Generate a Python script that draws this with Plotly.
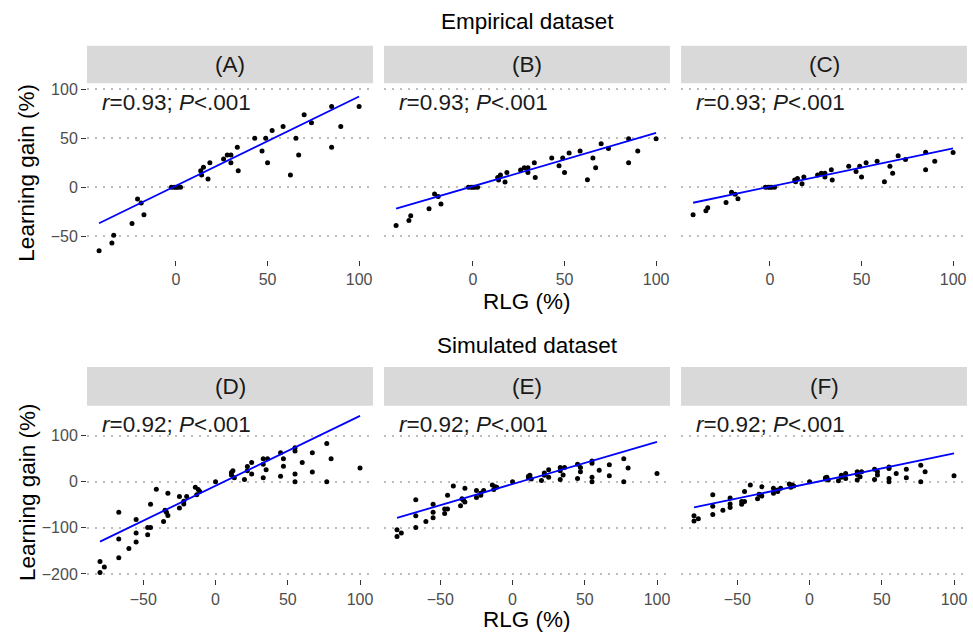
import numpy as np
import plotly.graph_objects as go

# ---------------- data ----------------
# Empirical dataset (panels A, B, C): RLG (%) and learning gain (%)
rlg_emp = [-42, -35, -34, -24, -21, -19, -17.5, -2.5, -1, 0, 1, 2.5,
           13.5, 14, 15, 17.5, 18.5, 26, 28, 30, 30, 33.5, 34, 43, 47, 49,
           50, 52.5, 58.5, 62.5, 65.5, 67, 70, 74, 85, 85, 90, 100]
lg_A = [-65, -57, -49, -37, -12, -16, -28, 0, 0, 0, 0, 0,
        17, 12.5, 20.5, 8.5, 25, 29, 33, 33, 25, 41, 17, 50, 37, 50,
        25, 58, 62, 12.5, 50, 33, 74, 66, 82.5, 41, 62, 82.5]
lg_B = [-39, -34, -29, -22, -7, -9.5, -17, 0, 0, 0, 0, 0,
        10, 7.5, 12.5, 5.4, 15, 17.6, 20, 20, 15, 25, 10, 30, 22, 30,
        15, 35, 37, 7.8, 30, 20, 44.6, 39.6, 49.7, 25, 37, 49.7]
lg_C = [-28, -24, -21, -15.6, -5.1, -7.1, -11.8, 0, 0, 0, 0, 0,
        7.3, 5.6, 9, 3.7, 10.5, 12.5, 14.2, 14.2, 10.5, 17.9, 7.4, 21.6, 16.2, 21.6,
        10.5, 25, 26.7, 5.7, 21.6, 14.2, 32.1, 28.4, 35.8, 17.9, 26.7, 35.5]

# Simulated dataset (panels D, E, F)
rlg_sim = [-80, -77, -80, -67, -67, -67, -60, -55, -55, -55,
           -47, -47, -45, -45, -41, -36, -35, -34, -33, -33,
           -25, -25, -22, -22, -20, -14, -13, -12, -11, 0,
           11, 11, 12, 13, 20, 22, 22, 25, 25, 33,
           33, 33, 36, 35, 45, 45, 47, 47, 55, 55,
           55, 55, 60, 67, 67, 77, 77, 80, 100]
lg_D = [-173, -185, -197, -66, -124, -165, -145, -82, -111, -131,
        -99, -115, -99, -49, -16, -86, -62, -66, -73, -25,
        -32, -57, -48, -42, -32, -12, -28, -17, -21, 0,
        20, 15, 24, 9, 5, 33, 24, 42, 17, 9,
        38, 50, 50, 26, 12, 63, 50, 34, 74, 67,
        17, 0, 42, 63, 21, 83, 0, 50, 30]
lg_E = [-104, -111, -119, -39, -74, -99, -86, -49, -66, -78,
        -59, -69, -59, -29, -9, -52, -37, -40, -44, -14,
        -19, -34, -29, -25, -19, -7, -17, -11, -12, 0,
        12, 9, 14, 6, 3, 19, 14, 26, 10, 5,
        24, 31, 31, 15, 7, 38, 31, 22, 45, 40,
        10, 0, 25, 37, 13, 50, 0, 30, 18]
lg_F = [-74, -80, -85, -28, -53, -71, -62, -35, -48, -56,
        -43, -49, -43, -21, -7, -37, -27, -28, -31, -11,
        -14, -25, -21, -18, -14, -5, -12, -7, -9, 0,
        9, 6, 10, 4, 2, 14, 10, 18, 7, 4,
        16, 22, 22, 11, 5, 27, 22, 15, 32, 29,
        7, 0, 18, 27, 9, 36, 0, 22, 13]

# Regression lines as drawn in the chart (slope, intercept per panel)
fit_slope = [0.912, 0.545, 0.391, 1.516, 0.918, 0.651]
fit_intercept = [1.5, 1.0, 0.6, -8.6, -4.9, -3.4]

panel_labels = ["(A)", "(B)", "(C)", "(D)", "(E)", "(F)"]
stat_labels = ["<i>r</i>=0.93; <i>P</i>&lt;.001"] * 3 + ["<i>r</i>=0.92; <i>P</i>&lt;.001"] * 3
row_titles = ["Empirical dataset", "Simulated dataset"]
x_title = "RLG (%)"
y_title = "Learning gain (%)"
x_ticks_top = [0, 50, 100]
x_ticks_bot = [-50, 0, 50, 100]
y_ticks_top = [-50, 0, 50, 100]
y_ticks_bot = [-200, -100, 0, 100]

panels = [(rlg_emp, lg_A), (rlg_emp, lg_B), (rlg_emp, lg_C),
          (rlg_sim, lg_D), (rlg_sim, lg_E), (rlg_sim, lg_F)]

# ---------------- layout geometry (pixels) ----------------
W, H = 973, 636
FONT = "Liberation Sans, Arial, sans-serif"
BIG = 22.5
col_px = [(87, 373), (384, 670), (681, 967)]
row_panel_px = [(82, 260), (407, 582)]
row_strip_px = [(44, 82), (368, 407)]
x_ranges = [[-48.6, 107.6], [-89, 109]]
y_ranges = [[-74.3, 106.2], [-212, 165]]


def fx(px):
    return px / W


def fy(py):
    return 1 - py / H


fig = go.Figure()
layout = dict(
    width=W, height=H,
    margin=dict(l=0, r=0, t=0, b=0),
    paper_bgcolor="white", plot_bgcolor="white",
    showlegend=False,
    font=dict(family=FONT, color="#1A1A1A"),
    shapes=[], annotations=[],
)

for i, (xs, ys) in enumerate(panels):
    r, c = divmod(i, 3)
    k = "" if i == 0 else str(i + 1)
    xa, ya = "x" + k, "y" + k
    x = np.array(xs, float)
    y = np.array(ys, float)
    xg = np.array([x.min(), x.max()])
    yg = fit_intercept[i] + fit_slope[i] * xg
    fig.add_trace(go.Scatter(
        x=x, y=y, mode="markers",
        marker=dict(color="black", size=5, line=dict(width=0)),
        xaxis=xa, yaxis=ya))
    fig.add_trace(go.Scatter(
        x=xg, y=yg, mode="lines", line=dict(color="#0000FF", width=1.8),
        xaxis=xa, yaxis=ya))

    x0, x1 = col_px[c]
    p0, p1 = row_panel_px[r]
    layout["xaxis" + k] = dict(
        domain=[fx(x0), fx(x1)], anchor=ya, range=x_ranges[r],
        tickvals=x_ticks_top if r == 0 else x_ticks_bot,
        ticks="outside", ticklen=5, tickwidth=1, tickcolor="#333333",
        tickfont=dict(size=16, color="#4D4D4D", family=FONT),
        showgrid=False, zeroline=False, showline=False,
    )
    layout["yaxis" + k] = dict(
        domain=[fy(p1), fy(p0)], anchor=xa, range=y_ranges[r],
        tickvals=y_ticks_top if r == 0 else y_ticks_bot,
        ticks="outside" if c == 0 else "", ticklen=5, tickwidth=1, tickcolor="#333333",
        showticklabels=(c == 0),
        tickfont=dict(size=16, color="#4D4D4D", family=FONT),
        showgrid=True, gridcolor="#BDBDBD", gridwidth=1.5, griddash="2px,6px",
        zeroline=False, showline=False,
    )
    # strip
    s0, s1 = row_strip_px[r]
    layout["shapes"].append(dict(
        type="rect", xref="paper", yref="paper",
        x0=fx(x0), x1=fx(x1), y0=fy(s1), y1=fy(s0),
        fillcolor="#D9D9D9", line=dict(width=0), layer="below"))
    layout["annotations"].append(dict(
        text=panel_labels[i], xref="paper", yref="paper",
        x=fx((x0 + x1) / 2), y=fy((s0 + s1) / 2), showarrow=False,
        xanchor="center", yanchor="middle",
        font=dict(size=BIG, color="#1A1A1A", family=FONT)))
    # statistic label
    layout["annotations"].append(dict(
        text=stat_labels[i], xref="paper", yref="paper",
        x=fx(x0 + 13), y=fy(p0 + 19), showarrow=False,
        xanchor="left", yanchor="middle",
        font=dict(size=BIG, color="#1A1A1A", family=FONT)))

# row titles, axis titles
for r, (ty, xty, yty) in enumerate([(20, 302, 172), (346, 622, 494)]):
    layout["annotations"].append(dict(
        text=row_titles[r], xref="paper", yref="paper", x=fx(527), y=fy(ty),
        showarrow=False, xanchor="center", yanchor="middle",
        font=dict(size=BIG, color="black", family=FONT)))
    layout["annotations"].append(dict(
        text=x_title, xref="paper", yref="paper", x=fx(527), y=fy(xty),
        showarrow=False, xanchor="center", yanchor="middle",
        font=dict(size=BIG, color="black", family=FONT)))
    layout["annotations"].append(dict(
        text=y_title, xref="paper", yref="paper", x=fx(27), y=fy(yty),
        showarrow=False, xanchor="center", yanchor="middle", textangle=-90,
        font=dict(size=BIG, color="black", family=FONT)))

fig.update_layout(**layout)
fig.write_html("out.html", config={"displayModeBar": False},
               post_script="document.body.style.margin='0';")
